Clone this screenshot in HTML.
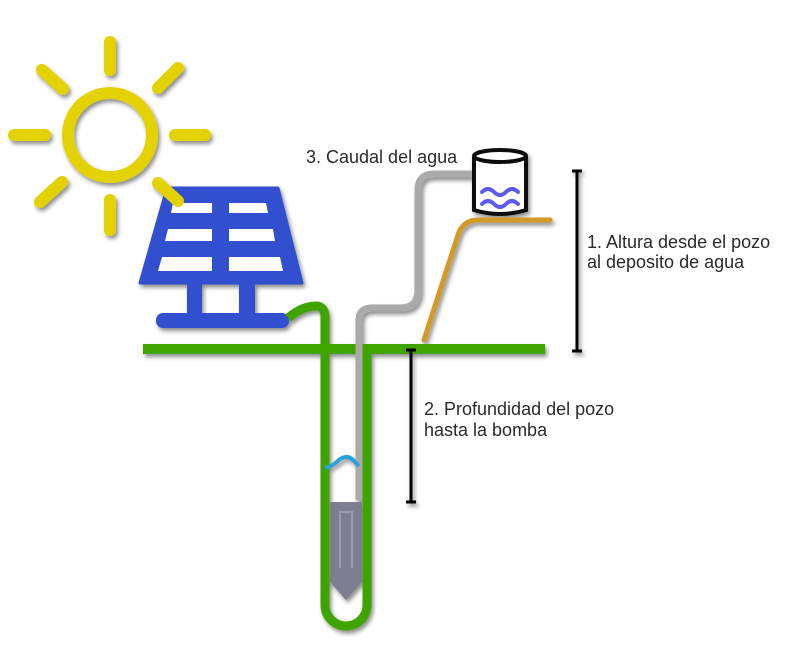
<!DOCTYPE html>
<html><head><meta charset="utf-8"><style>
html,body{margin:0;padding:0;background:#fff;}
svg{display:block}
text{font-family:"Liberation Sans",sans-serif;font-size:18px;fill:#2a2a2a;}
</style></head><body>
<svg width="800" height="668" viewBox="0 0 800 668" xmlns="http://www.w3.org/2000/svg">
<defs>
<filter id="sh" x="-10%" y="-10%" width="130%" height="130%">
<feDropShadow dx="2" dy="3" stdDeviation="2" flood-color="#000" flood-opacity="0.45"/>
</filter>
</defs>
<g filter="url(#sh)">
<path d="M167,188 L278,188 L302,283 L140,283 Z" fill="#3050d0" stroke="#3050d0" stroke-width="3" stroke-linejoin="round"/>
<g fill="#fff">
<polygon points="173,203 212,203 212,213 171,213"/>
<polygon points="229,203 266,203 268,213 229,213"/>
<polygon points="168,229 212,229 212,241 165,241"/>
<polygon points="229,229 273,229 275,241 229,241"/>
<polygon points="162,257 212,257 212,271 158,271"/>
<polygon points="229,257 280,257 283,271 229,271"/>
</g>
<rect x="187" y="283" width="15" height="32" fill="#3050d0"/>
<rect x="239" y="283" width="16" height="32" fill="#3050d0"/>
<rect x="156" y="313" width="133" height="15" rx="7" fill="#3050d0"/>
<g stroke="#e4d100" stroke-linecap="round" fill="none">
<circle cx="110" cy="135" r="42" stroke-width="12"/>
<g stroke-width="12">
<line x1="110" y1="42" x2="110" y2="70"/>
<line x1="110" y1="200" x2="110" y2="230"/>
<line x1="14" y1="135" x2="45" y2="135"/>
<line x1="175" y1="135" x2="205" y2="135"/>
<line x1="42" y1="70" x2="63" y2="89"/>
<line x1="178" y1="68" x2="158" y2="88"/>
<line x1="40" y1="202" x2="62" y2="182"/>
<line x1="158" y1="183" x2="178" y2="201"/>
</g></g>
<rect x="143" y="344" width="402" height="10" fill="#3fa400"/>
<path d="M288,318 C300,308 310,306 316,306 Q325,306 325,318 L325,605 A21,21 0 0 0 367,605 L367,350" fill="none" stroke="#3fa400" stroke-width="9"/>
<path d="M359,500 L359,320 Q359,308 372,308 L400,308 Q418,308 418,290 L418,190 Q418,174 434,174 L478,174" fill="none" stroke="#aaaaaa" stroke-width="7"/>
<path d="M424,340 L458,235 Q463,220 478,220 L550,220" fill="none" stroke="#d49a28" stroke-width="5" stroke-linecap="round"/>
<path d="M474,157 L474,210 Q500,218 526,210 L526,157" fill="#fff" stroke="#111" stroke-width="4"/>
<ellipse cx="500" cy="156" rx="26" ry="6" fill="#fff" stroke="#111" stroke-width="4"/>
<g fill="none" stroke="#5b5bf0" stroke-width="4" stroke-linecap="round">
<path d="M482,192 q6,-6 12,0 t12,0 t12,0"/>
<path d="M482,204 q6,-6 12,0 t12,0 t12,0"/>
</g>
<path d="M325,468 q8,-2 14,-8 q8,-6 14,0 l6,6" fill="none" stroke="#2aa0d8" stroke-width="4"/>
<polygon points="330,502 362,502 362,582 346,600 330,582" fill="#7e7e92"/>
<path d="M340,568 L340,512 L352,512 L352,568" fill="none" stroke="#9a9aad" stroke-width="2"/>
<g stroke="#000" stroke-width="3">
<line x1="577" y1="171" x2="577" y2="351"/>
<line x1="572" y1="171" x2="582" y2="171"/>
<line x1="572" y1="351" x2="582" y2="351"/>
<line x1="411" y1="350" x2="411" y2="502"/>
<line x1="406" y1="350" x2="416" y2="350"/>
<line x1="406" y1="502" x2="416" y2="502"/>
</g>
</g>
<text x="306" y="163">3. Caudal del agua</text>
<text x="587" y="248">1. Altura desde el pozo</text>
<text x="587" y="268">al deposito de agua</text>
<text x="424" y="415">2. Profundidad del pozo</text>
<text x="424" y="436">hasta la bomba</text>
</svg>
</body></html>
